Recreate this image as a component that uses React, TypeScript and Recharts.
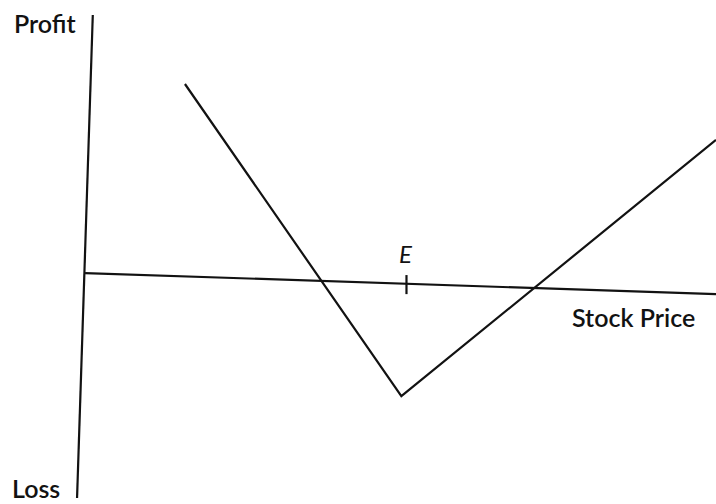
import { LineChart, Line, XAxis, YAxis } from "recharts";

// payoff of a long straddle: price vs profit (arbitrary units, E = 50)
const payoffPrice = [15.7, 49.4, 98.4];
const payoffProfit = [79.5, -45, 57.2];

// hand-drawn axes are slightly tilted in the scan
const priceAxisPrice = [0.15, 98.4];
const priceAxisProfit = [4.1, -4.3];
const profitAxisPrice = [1.35, -1.1];
const profitAxisProfit = [107, -85.6];

const strikeTickPrice = [50.2, 50.2];
const strikeTickProfit = [3.3, -4.3];

const zip = (xs: number[], ys: number[]) =>
  xs.map((price, i) => ({ price, profit: ys[i] }));

const ink = "#121212";
const font = "Lato, 'Open Sans', sans-serif";

const label = (
  text: string,
  left: number,
  top: number,
  size = 25,
  italic = false,
  weight = 600
) => (
  <div
    style={{
      position: "absolute",
      left,
      top,
      fontSize: size,
      lineHeight: `${size}px`,
      fontFamily: font,
      fontStyle: italic ? "italic" : "normal",
      fontWeight: weight,
      color: ink,
      whiteSpace: "nowrap",
    }}
  >
    {text}
  </div>
);

export default function App() {
  return (
    <div
      style={{
        position: "absolute",
        left: 0,
        top: 0,
        width: 716,
        height: 504,
        background: "#fff",
        overflow: "hidden",
      }}
    >
      <LineChart
        width={716}
        height={504}
        margin={{ top: 0, right: 0, bottom: 0, left: 0 }}
      >
        <XAxis
          type="number"
          dataKey="price"
          domain={[-13.1, 98.4]}
          allowDataOverflow
          hide
        />
        <YAxis type="number" domain={[-88, 113]} allowDataOverflow hide />
        <Line
          data={zip(profitAxisPrice, profitAxisProfit)}
          dataKey="profit"
          stroke={ink}
          strokeWidth={2.2}
          dot={false}
          activeDot={false}
          isAnimationActive={false}
        />
        <Line
          data={zip(priceAxisPrice, priceAxisProfit)}
          dataKey="profit"
          stroke={ink}
          strokeWidth={2.2}
          dot={false}
          activeDot={false}
          isAnimationActive={false}
        />
        <Line
          data={zip(strikeTickPrice, strikeTickProfit)}
          dataKey="profit"
          stroke={ink}
          strokeWidth={2.2}
          dot={false}
          activeDot={false}
          isAnimationActive={false}
        />
        <Line
          data={zip(payoffPrice, payoffProfit)}
          dataKey="profit"
          stroke={ink}
          strokeWidth={2.2}
          dot={false}
          activeDot={false}
          isAnimationActive={false}
        />
      </LineChart>
      {label("Profit", 14, 11)}
      {label("Loss", 12, 476)}
      {label("Stock Price", 572, 305)}
      {label("E", 399, 242, 24, true, 400)}
    </div>
  );
}
